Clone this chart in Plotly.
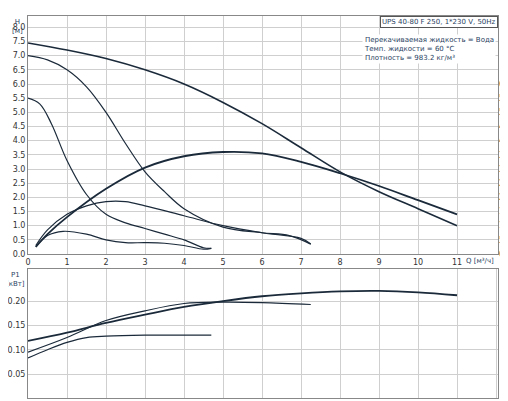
import plotly.graph_objects as go

q3 = [0, 1, 2, 3, 4, 5, 6, 7, 8, 9, 10, 11]
h3 = [7.45, 7.2, 6.9, 6.5, 6.0, 5.35, 4.6, 3.75, 2.9, 2.2, 1.6, 1.0]
qe3 = [0.2, 0.5, 1, 2, 3, 4, 5, 6, 7, 8, 9, 10, 11]
e3 = [2.5, 7, 13, 23, 30.5, 34.5, 36, 35.5, 32.5, 28.5, 24, 19, 14]
q2 = [0, 0.5, 1, 1.5, 2, 2.5, 3, 3.5, 4, 5, 6, 6.7, 7.25]
h2 = [7.0, 6.85, 6.5, 5.9, 5.0, 3.9, 2.9, 2.2, 1.6, 0.95, 0.75, 0.65, 0.35]
qe2 = [0.2, 0.5, 1, 1.5, 2, 2.5, 3, 4, 5, 6, 7, 7.25]
e2 = [0.3, 0.85, 1.4, 1.7, 1.85, 1.85, 1.7, 1.35, 1.0, 0.75, 0.55, 0.35]
q1 = [0, 0.3, 0.6, 1, 1.5, 2, 2.5, 3, 3.5, 4, 4.5, 4.7]
h1 = [5.5, 5.3, 4.6, 3.3, 2.1, 1.4, 1.1, 0.9, 0.7, 0.5, 0.22, 0.2]
qe1 = [0.2, 0.5, 0.9, 1.5, 2, 2.5, 3, 3.5, 4, 4.5, 4.7]
e1 = [0.25, 0.65, 0.8, 0.7, 0.5, 0.4, 0.4, 0.38, 0.3, 0.17, 0.2]
qp3 = [0, 1, 2, 3, 4, 5, 6, 7, 8, 9, 10, 11]
p3 = [0.118, 0.135, 0.155, 0.172, 0.188, 0.2, 0.21, 0.216, 0.22, 0.221, 0.218, 0.212]
qp2 = [0, 1, 2, 3, 4, 5, 6, 7.25]
p2 = [0.095, 0.125, 0.16, 0.18, 0.195, 0.198, 0.197, 0.193]
qp1 = [0, 0.5, 1, 1.5, 2, 3, 4, 4.7]
p1 = [0.083, 0.1, 0.115, 0.125, 0.128, 0.13, 0.13, 0.13]

fig = go.Figure()
C = "#1b2a3a"
def add(x, y, xa, ya, w=1.2):
    fig.add_trace(go.Scatter(x=x, y=y, mode="lines", line=dict(color=C, width=w, shape="spline"),
                             xaxis=xa, yaxis=ya, showlegend=False))
add(q3, h3, "x", "y", 1.6); add(qe3, [v/10 for v in e3], "x", "y", 1.8)
add(q2, h2, "x", "y"); add(qe2, e2, "x", "y")
add(q1, h1, "x", "y"); add(qe1, e1, "x", "y")
add(qp3, p3, "x2", "y2", 1.8); add(qp2, p2, "x2", "y2"); add(qp1, p1, "x2", "y2")
# invisible trace so the eta axis renders
fig.add_trace(go.Scatter(x=qe3, y=e3, mode="lines", line=dict(width=0), opacity=0,
                         xaxis="x", yaxis="y3", showlegend=False, hoverinfo="skip"))

g = dict(showgrid=True, gridcolor="#cfcfcf", gridwidth=1, zeroline=False, showline=True,
         linecolor="#888", mirror=True, tickfont=dict(size=8, color="#333"), ticks="", automargin=False)
fig.update_layout(
    width=508, height=401, margin=dict(l=20, r=18, t=8, b=6),
    plot_bgcolor="white", paper_bgcolor="white", font=dict(family="DejaVu Sans", size=8),
    xaxis=dict(domain=[0, 1], range=[0, 12.05], tickvals=list(range(12)), anchor="y", **g),
    yaxis=dict(domain=[0.385, 1], range=[0, 8.4], tickvals=[i/2 for i in range(17)], tickformat=".1f", **g),
    yaxis3=dict(overlaying="y", side="right", range=[0, 84], tickvals=list(range(0, 65, 5)),
                showgrid=False, zeroline=False, showline=False, automargin=False,
                tickfont=dict(size=8, color="#333")),
    xaxis2=dict(domain=[0, 1], range=[0, 12.05], dtick=1, anchor="y2", showticklabels=False, **g),
    yaxis2=dict(domain=[0.012, 0.345], range=[0, 0.265], tickvals=[0.05, 0.1, 0.15, 0.2],
                tickformat=".2f", **g),
)
fig.add_annotation(x=0, y=1, xref="paper", yref="paper", text="H<br>[м]", showarrow=False,
                   xanchor="right", yanchor="top", xshift=-3, font=dict(size=7))
fig.add_annotation(x=1, y=1, xref="paper", yref="paper", text="eta<br>[%]", showarrow=False,
                   xanchor="left", yanchor="top", xshift=1, font=dict(size=7))
fig.add_annotation(x=12.0, y=0.0, xref="x", yref="y", text="Q [м³/ч]", showarrow=False,
                   xanchor="right", yanchor="top", yshift=-1, font=dict(size=7))
fig.add_annotation(x=0, y=0.345, xref="paper", yref="paper", text="P1<br>[кВт]", showarrow=False,
                   xanchor="right", yanchor="top", xshift=-1, font=dict(size=7))
fig.add_annotation(x=1, y=1, xref="paper", yref="paper", text="UPS 40-80 F 250, 1*230 V, 50Hz",
                   showarrow=False, xanchor="right", yanchor="top", bgcolor="white",
                   bordercolor="#555", borderwidth=1, borderpad=1, font=dict(size=7))
fig.add_annotation(x=12.0, y=7.75, xref="x", yref="y", align="left",
                   text="Перекачиваемая жидкость = Вода<br>Темп. жидкости = 60 °C<br>Плотность = 983.2 кг/м³",
                   showarrow=False, xanchor="right", yanchor="top", bgcolor="white", font=dict(size=7))
fig.write_html("out.html")
